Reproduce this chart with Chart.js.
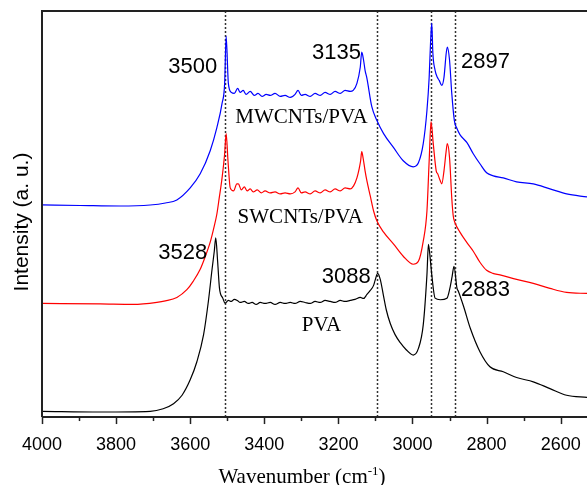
<!DOCTYPE html>
<html><head><meta charset="utf-8">
<script src="https://cdn.jsdelivr.net/npm/chart.js@4"></script>
<style>html,body{margin:0;padding:0;background:#fff}</style>
</head><body>
<canvas id="c" width="587" height="485"></canvas>
<script>
// ---------- data (wavenumber in cm-1, intensity in arbitrary units) ----------
const mwcntWn = [4000,3897,3789,3708,3667,3636,3600,3573,3546,3528,3514,3507,3503,3497,3489,3481,3472,3465,3457,3449,3438,3427,3417,3406,3395,3384,3371,3357,3344,3330,3317,3309,3300,3290,3276,3263,3249,3236,3222,3209,3195,3182,3168,3160,3150,3141,3137,3132,3128,3123,3110,3096,3078,3051,3025,2998,2984,2971,2961,2955,2951,2948,2945,2939,2933,2928,2921,2915,2909,2906,2900,2894,2887,2880,2872,2853,2836,2818,2800,2782,2755,2719,2674,2629,2584,2529];
const mwcntI  = [211,210.5,210,211,213,216,228,242,265,288,312,332,379,332,323,322,327,323,325,321,324,320,322,319,321,320,322,319,320,318,321,325,320,321,319,322,320,323,321,324,322,325,324,325,332,348,363,355,345,337,309,295,282,268,255,249,253,272,305,338,375,392,362,345,338,335,330,338,362,368,355,322,295,287,281,273,262,252,243,240,238,234,232,227,222,219];

const swcntWn = [4000,3843,3754,3690,3667,3636,3609,3592,3573,3560,3546,3537,3528,3522,3514,3507,3503,3498,3492,3483,3474,3470,3462,3454,3446,3438,3430,3419,3408,3398,3384,3371,3357,3344,3330,3317,3309,3300,3290,3276,3263,3249,3236,3222,3209,3195,3182,3168,3159,3150,3144,3140,3137,3133,3128,3123,3114,3105,3096,3078,3051,3025,2998,2984,2971,2961,2955,2950,2944,2936,2932,2925,2921,2915,2909,2906,2900,2894,2890,2885,2872,2854,2836,2818,2800,2783,2764,2719,2674,2629,2584,2529];
const swcntI  = [113,112.5,112,114,115.5,119,126.7,135,147,159,174,187,202,217,238,262,282,255,228,225,232,232,226,229,225,227,224,226,223,225,223,224,222,223,222,224,228,223,224,222,225,223,226,224,227,225,228,227,230,238,247,255,264,257,245,235,220,205,195,184,172,160,152,155,175,205,255,294,272,245,242,235,232,245,265,272,258,218,200,193,184,174,165,154,146,143,141.5,137,133,128,124,123];

const pvaWn = [4000,3843,3708,3673,3645,3622,3600,3582,3564,3551,3541,3535,3531,3526,3521,3512,3506,3497,3489,3481,3473,3465,3454,3443,3433,3422,3411,3398,3384,3371,3357,3344,3330,3317,3303,3290,3276,3263,3249,3236,3222,3209,3195,3182,3168,3155,3141,3132,3123,3114,3105,3101,3094,3087,3078,3071,3060,3047,3033,3017,2998,2984,2971,2961,2957,2952,2948,2939,2925,2907,2899,2893,2888,2880,2876,2862,2844,2818,2791,2755,2719,2674,2629,2584,2529];
const pvaI  = [5.7,5,5.7,8.3,13.3,21.7,37,55,81.7,115,147,165,178.3,155,128.3,118.3,113.3,116,115,117,116,114,115,113,114,112,114,113,114,112,114,113,114,113,115,114,113,115,114,116,115,114,116,115,116,117,119,118,122,126,131,136,143,137,120,107,93,82,74,67,61.7,68.3,91.7,141.7,171.7,157,141.7,118.3,116.7,118.3,128.3,140,150,128.3,125,110,88.3,65,50,45,39.3,35,28.3,21.7,19.5];

const xTickValues = [4000,3800,3600,3400,3200,3000,2800,2600];
const markerWn = [3505, 3095, 2950, 2886];
const peakTexts = ['3500','3135','2897','3528','3088','2883'];
const seriesNames = ['MWCNTs/PVA','SWCNTs/PVA','PVA'];

// ---------- annotation anchors (data coords) ----------
const peakAnchors = [
  {wn:3527, v:342, align:'right'},
  {wn:3139, v:356, align:'right'},
  {wn:2869, v:347, align:'left'},
  {wn:3554, v:157, align:'right'},
  {wn:3112.5, v:133.3, align:'right'},
  {wn:2869, v:120, align:'left'}
];
const nameAnchors = [
  {wn:3478.5, v:293},
  {wn:3472, v:193},
  {wn:3298.6, v:86}
];

const toXY = (xs, ys) => xs.map((x, i) => ({x, y: ys[i]}));

const decor = {
  id: 'decor',
  beforeDatasetsDraw(chart) {
    const {ctx, chartArea: a, scales: {x}} = chart;
    ctx.save();
    ctx.strokeStyle = '#333';
    ctx.lineWidth = 1.5;
    ctx.setLineDash([2, 2]);
    markerWn.forEach(w => {
      const px = Math.round(x.getPixelForValue(w)) + 0.5;
      ctx.beginPath(); ctx.moveTo(px, a.top); ctx.lineTo(px, a.bottom); ctx.stroke();
    });
    ctx.restore();
  },
  afterDraw(chart) {
    const {ctx, chartArea: a, scales: {x, y}} = chart;
    ctx.save();
    // axes lines
    ctx.strokeStyle = '#222';
    ctx.lineWidth = 2;
    ctx.beginPath();
    ctx.moveTo(a.left, a.bottom); ctx.lineTo(a.left, a.top); ctx.lineTo(chart.width, a.top);
    ctx.moveTo(a.left, a.bottom); ctx.lineTo(chart.width, a.bottom);
    ctx.stroke();
    // tick marks
    ctx.lineWidth = 1.5;
    x.ticks.forEach(t => {
      const px = Math.round(x.getPixelForValue(t.value)) + 0.5;
      const len = (t.value % 200 === 0) ? 7 : 4;
      ctx.beginPath(); ctx.moveTo(px, a.bottom); ctx.lineTo(px, a.bottom + len); ctx.stroke();
    });
    // peak labels
    ctx.fillStyle = '#000';
    ctx.font = '22px "Liberation Sans", Arial, sans-serif';
    ctx.textBaseline = 'alphabetic';
    peakTexts.forEach((txt, i) => {
      const p = peakAnchors[i];
      ctx.textAlign = p.align;
      ctx.fillText(txt, x.getPixelForValue(p.wn), y.getPixelForValue(p.v));
    });
    // series names
    ctx.font = '21px "Liberation Serif", "Times New Roman", serif';
    ctx.textAlign = 'left';
    seriesNames.forEach((txt, i) => {
      const p = nameAnchors[i];
      ctx.fillText(txt, x.getPixelForValue(p.wn), y.getPixelForValue(p.v));
    });
    // y title
    ctx.save();
    ctx.translate(22, 222);
    ctx.rotate(-Math.PI / 2);
    ctx.font = '21px "Liberation Sans", Arial, sans-serif';
    ctx.textAlign = 'center';
    ctx.textBaseline = 'middle';
    ctx.fillText('Intensity (a. u.)', 0, 0);
    ctx.restore();
    // x title with superscript
    const mainFont = '21px "Liberation Serif", "Times New Roman", serif';
    const supFont = '13px "Liberation Serif", "Times New Roman", serif';
    const p1 = 'Wavenumber (cm', sup = '-1', p2 = ')';
    ctx.font = mainFont; const w1 = ctx.measureText(p1).width, w3 = ctx.measureText(p2).width;
    ctx.font = supFont; const w2 = ctx.measureText(sup).width;
    let sx = 302 - (w1 + w2 + w3) / 2;
    const base = 483;
    ctx.textAlign = 'left';
    ctx.font = mainFont; ctx.fillText(p1, sx, base); sx += w1;
    ctx.font = supFont; ctx.fillText(sup, sx, base - 8); sx += w2;
    ctx.font = mainFont; ctx.fillText(p2, sx, base);
    ctx.restore();
  }
};

new Chart(document.getElementById('c'), {
  type: 'line',
  data: {
    datasets: [
      {label: seriesNames[0], data: toXY(mwcntWn, mwcntI), borderColor: '#0000ff'},
      {label: seriesNames[1], data: toXY(swcntWn, swcntI), borderColor: '#ff0000'},
      {label: seriesNames[2], data: toXY(pvaWn, pvaI), borderColor: '#000000'}
    ]
  },
  options: {
    responsive: false,
    animation: false,
    devicePixelRatio: 1,
    layout: {padding: {left: 42, top: 11, right: 0, bottom: 20}},
    elements: {
      point: {radius: 0},
      line: {borderWidth: 1.2, fill: false, tension: 0, cubicInterpolationMode: 'monotone'}
    },
    plugins: {legend: {display: false}, tooltip: {enabled: false}},
    scales: {
      x: {
        type: 'linear', reverse: true, min: 2529, max: 4000,
        grid: {display: false},
        border: {display: false},
        ticks: {
          stepSize: 100, includeBounds: false, autoSkip: false, maxRotation: 0, padding: 0,
          color: '#000',
          font: {family: '"Liberation Sans", Arial, sans-serif', size: 18, lineHeight: 2.22},
          callback: v => (xTickValues.includes(v) ? String(v) : '')
        }
      },
      y: {display: false, min: 0, max: 404}
    }
  },
  plugins: [decor]
});
</script>
</body></html>
